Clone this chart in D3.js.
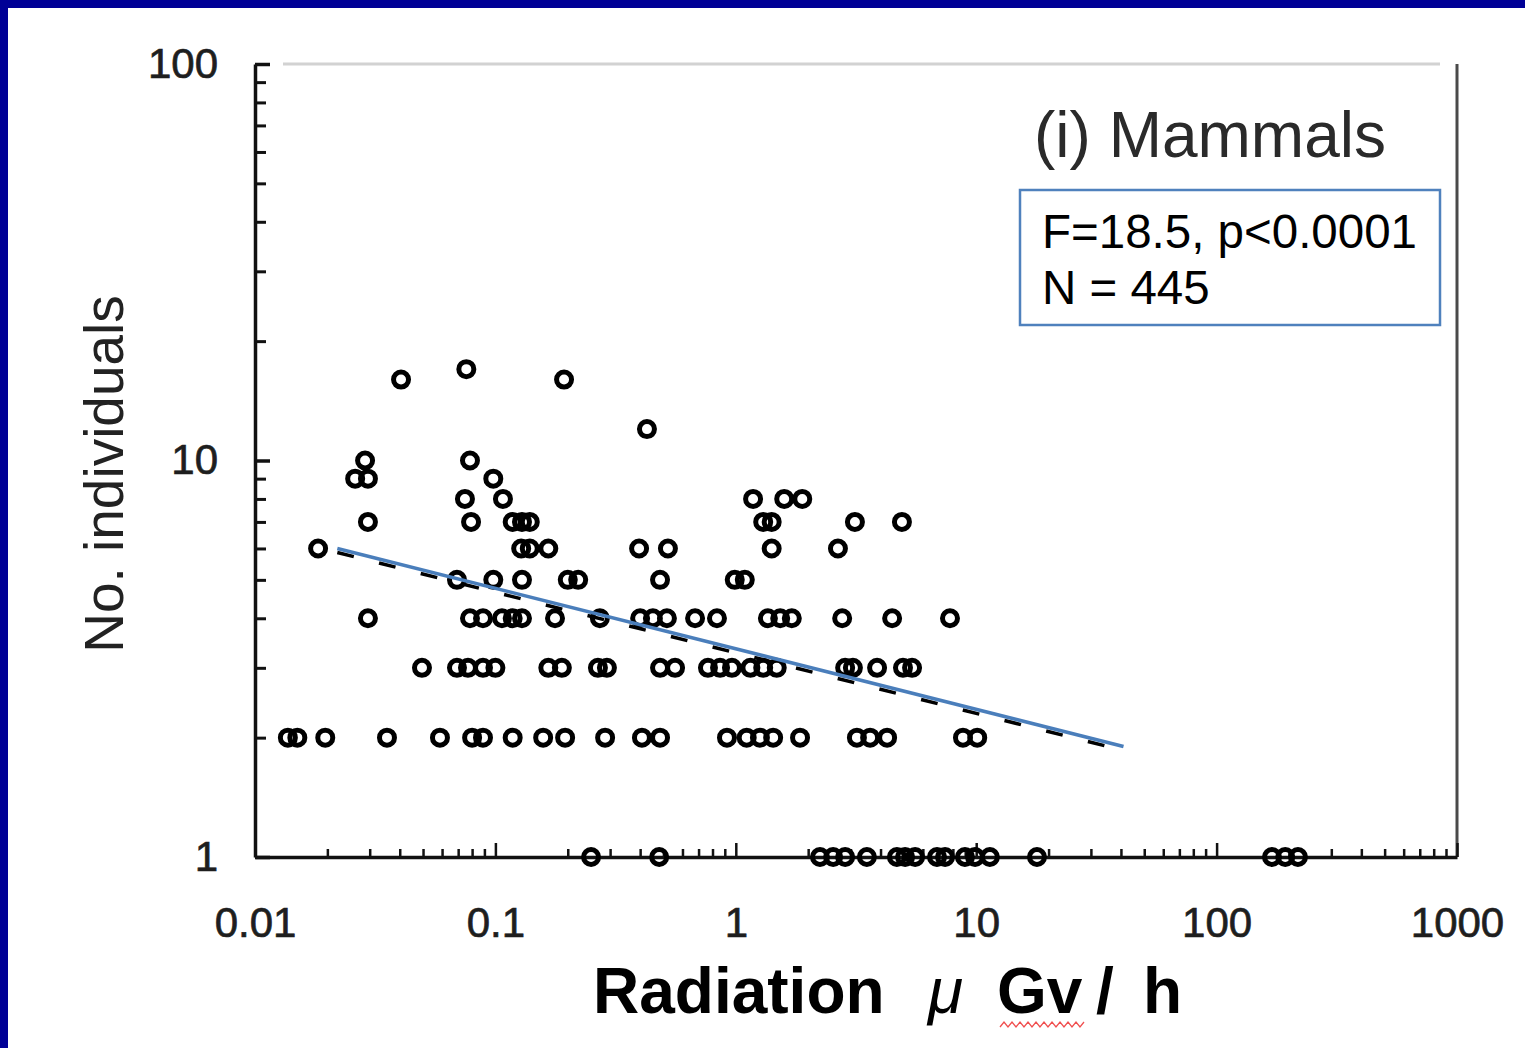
<!DOCTYPE html>
<html>
<head>
<meta charset="utf-8">
<script src="https://cdn.jsdelivr.net/npm/d3@7"></script>
<style>
    html, body { margin: 0; padding: 0; background: #fff; }
    svg { display: block; }
    text { font-family: "Liberation Sans", Arial, Helvetica, sans-serif; }
</style>
</head>
<body>
<div id="chart"></div>
<script>
// Radiation (µGy/h) of each plotted point, grouped by the number of individuals
const rad1 = [0.25, 0.48, 2.24, 2.54, 2.85, 3.51, 4.68, 5.06, 5.57, 6.87, 7.42, 8.98, 9.89, 11.4, 17.9, 170, 193, 218];
const rad2 = [0.0137, 0.015, 0.0196, 0.0354, 0.0588, 0.08, 0.0888, 0.118, 0.158, 0.195, 0.286, 0.407, 0.484,
              0.919, 1.11, 1.26, 1.43, 1.85, 3.19, 3.62, 4.26, 8.81, 10.1];
const rad3 = [0.0495, 0.0692, 0.0769, 0.0888, 0.1, 0.166, 0.189, 0.267, 0.291, 0.484, 0.559, 0.766, 0.86, 0.964,
              1.15, 1.3, 1.48, 2.85, 3.07, 3.87, 4.96, 5.41];
const rad4 = [0.0295, 0.0784, 0.0888, 0.1065, 0.118, 0.129, 0.177, 0.272, 0.4, 0.452, 0.517, 0.677, 0.835,
              1.36, 1.53, 1.71, 2.77, 4.47, 7.78];
const rad5 = [0.0692, 0.098, 0.129, 0.2, 0.221, 0.484, 0.99, 1.09];
const rad6 = [0.0183, 0.128, 0.139, 0.166, 0.396, 0.522, 1.41, 2.66];
const rad7 = [0.0295, 0.0792, 0.118, 0.129, 0.139, 1.3, 1.41, 3.13, 4.91];
const rad8 = [0.0747, 0.1075, 1.18, 1.59, 1.89];
const rad9 = [0.0261, 0.0295, 0.098];
const rad10 = [0.0287, 0.0784];
const rad12 = [0.427];
const rad16 = [0.0405, 0.193];
const rad17 = [0.0757];

const countGroups = [
    [1, rad1], [2, rad2], [3, rad3], [4, rad4], [5, rad5], [6, rad6], [7, rad7],
    [8, rad8], [9, rad9], [10, rad10], [12, rad12], [16, rad16], [17, rad17]
];

// Fitted regression line (end points)
const fitX = [0.022, 41];
const fitY = [6.0, 1.9];

const xTickValues = [0.01, 0.1, 1, 10, 100, 1000];
const xTickLabels = ['0.01', '0.1', '1', '10', '100', '1000'];
const yTickValues = [1, 10, 100];
const yTickLabels = ['1', '10', '100'];

const statsLines = ['F=18.5, p<0.0001', 'N = 445'];
const panelTitle = '(i) Mammals';

function renderChart() {
    const width = 1525;
    const height = 1048;

    const svg = d3.select('#chart')
        .append('svg')
        .attr('width', width)
        .attr('height', height);

    // blue slide frame (top and left edges)
    svg.append('rect').attr('x', 0).attr('y', 0).attr('width', width).attr('height', 8).attr('fill', '#000096');
    svg.append('rect').attr('x', 0).attr('y', 0).attr('width', 8).attr('height', height).attr('fill', '#000096');

    const x = d3.scaleLog().domain([0.01, 1000]).range([255, 1457]);
    const y = d3.scaleLog().domain([1, 100]).range([857, 64]);

    const minorX = x.ticks().filter(v => !xTickValues.includes(v));
    const minorY = y.ticks().filter(v => !yTickValues.includes(v));

    // top and right frame lines
    svg.append('line')
        .attr('x1', 283).attr('x2', 1440)
        .attr('y1', y(100)).attr('y2', y(100))
        .attr('stroke', '#d2d2d2').attr('stroke-width', 3);
    svg.append('line')
        .attr('x1', x(1000)).attr('x2', x(1000))
        .attr('y1', y(100)).attr('y2', y(1))
        .attr('stroke', '#4a4a4a').attr('stroke-width', 3);

    // x axis: minor and major ticks pointing inward
    svg.append('g')
        .attr('transform', `translate(0,${y(1)})`)
        .call(d3.axisBottom(x).tickValues(minorX).tickSize(-8).tickSizeOuter(0).tickFormat(''))
        .call(g => g.select('.domain').remove())
        .call(g => g.selectAll('.tick line').attr('stroke', '#111').attr('stroke-width', 2.5));

    const xAxis = svg.append('g')
        .attr('transform', `translate(0,${y(1)})`)
        .call(d3.axisBottom(x).tickValues(xTickValues).tickSize(-14).tickSizeOuter(0)
            .tickPadding(50).tickFormat((d, i) => xTickLabels[i]));
    xAxis.select('.domain').attr('stroke', '#111').attr('stroke-width', 3.5);
    xAxis.selectAll('.tick line').attr('stroke', '#111').attr('stroke-width', 2.5);
    xAxis.selectAll('.tick text')
        .attr('fill', '#1e1e1e')
        .attr('stroke', '#1e1e1e')
        .attr('stroke-width', 0.7)
        .style('font-size', '42px');

    // y axis
    svg.append('g')
        .attr('transform', `translate(${x(0.01)},0)`)
        .call(d3.axisLeft(y).tickValues(minorY).tickSize(-11).tickSizeOuter(0).tickFormat(''))
        .call(g => g.select('.domain').remove())
        .call(g => g.selectAll('.tick line').attr('stroke', '#111').attr('stroke-width', 3));

    const yAxis = svg.append('g')
        .attr('transform', `translate(${x(0.01)},0)`)
        .call(d3.axisLeft(y).tickValues(yTickValues).tickSize(-15).tickSizeOuter(0)
            .tickPadding(37).tickFormat((d, i) => yTickLabels[i]));
    yAxis.select('.domain').attr('stroke', '#111').attr('stroke-width', 3.5);
    yAxis.selectAll('.tick line').attr('stroke', '#111').attr('stroke-width', 3.5);
    yAxis.selectAll('.tick text')
        .attr('fill', '#1e1e1e')
        .attr('stroke', '#1e1e1e')
        .attr('stroke-width', 0.7)
        .style('font-size', '42px');

    // data points
    const points = countGroups.flatMap(([count, rads]) => rads.map(r => ({ r, count })));
    svg.append('g')
        .selectAll('circle')
        .data(points)
        .enter()
        .append('circle')
        .attr('cx', d => x(d.r))
        .attr('cy', d => y(d.count))
        .attr('r', 7.5)
        .attr('fill', 'none')
        .attr('stroke', '#000')
        .attr('stroke-width', 5);

    // regression lines: black dashed original with the blue overlay
    const fit = fitX.map((v, i) => [v, fitY[i]]);
    const line = d3.line().x(d => x(d[0])).y(d => y(d[1]));
    svg.append('path')
        .attr('d', line(fit))
        .attr('transform', 'translate(0,4)')
        .attr('fill', 'none')
        .attr('stroke', '#000')
        .attr('stroke-width', 3.5)
        .attr('stroke-dasharray', '17,26');
    svg.append('path')
        .attr('d', line(fit))
        .attr('fill', 'none')
        .attr('stroke', '#4a7ebb')
        .attr('stroke-width', 3.5);

    // panel title
    svg.append('text')
        .attr('x', 1034)
        .attr('y', 157)
        .attr('fill', '#2a2a2a')
        .style('font-size', '64px')
        .text(panelTitle);

    // stats box
    svg.append('rect')
        .attr('x', 1020).attr('y', 190)
        .attr('width', 420).attr('height', 135)
        .attr('fill', '#fff')
        .attr('stroke', '#4f81bd')
        .attr('stroke-width', 2.5);
    statsLines.forEach((s, i) => {
        svg.append('text')
            .attr('x', 1042)
            .attr('y', 248 + i * 56)
            .attr('fill', '#000')
            .style('font-size', '47.5px')
            .text(s);
    });

    // y axis title
    svg.append('text')
        .attr('transform', 'translate(123,474) rotate(-90)')
        .attr('text-anchor', 'middle')
        .attr('fill', '#222')
        .style('font-size', '55px')
        .text('No. individuals');

    // x axis title
    const xt = svg.append('text')
        .attr('y', 1013)
        .attr('fill', '#000')
        .style('font-size', '64px')
        .style('font-weight', 'bold');
    xt.append('tspan').attr('x', 593).text('Radiation');
    xt.append('tspan').attr('x', 928).style('font-style', 'italic').style('font-weight', 'normal').text('μ');
    xt.append('tspan').attr('x', 997).text('Gv');
    xt.append('tspan').attr('x', 1096).text('/');
    xt.append('tspan').attr('x', 1143).text('h');

    // spell-check squiggle under "Gv"
    const squiggle = d3.range(1000, 1086, 4).map((px, i) => [px, i % 2 ? 1022 : 1027]);
    svg.append('path')
        .attr('d', d3.line()(squiggle))
        .attr('fill', 'none')
        .attr('stroke', '#f05050')
        .attr('stroke-width', 1.3);
}

renderChart();
</script>
</body>
</html>
